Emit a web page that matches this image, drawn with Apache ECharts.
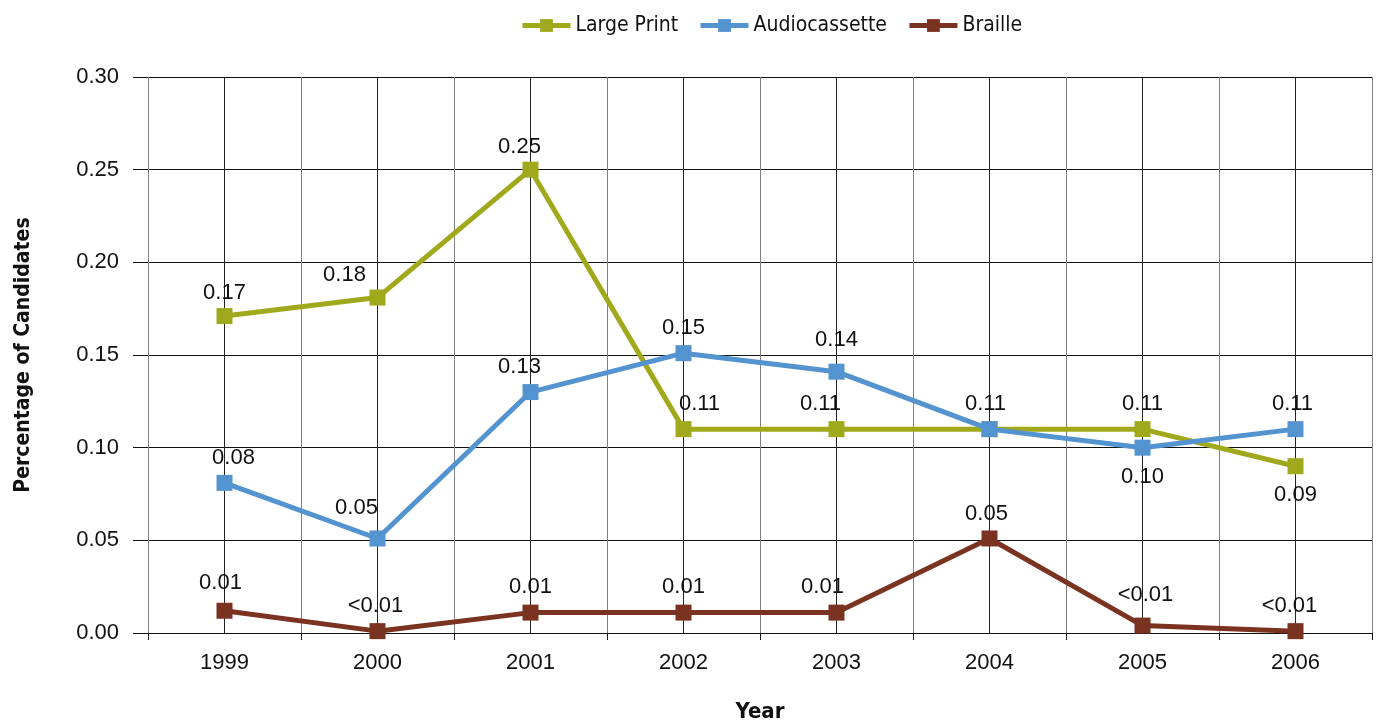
<!DOCTYPE html>
<html>
<head>
<meta charset="utf-8">
<title>Percentage of Candidates by Year</title>
<script src="https://cdn.jsdelivr.net/npm/echarts@6/dist/echarts.min.js"></script>
<style>
  html, body { margin: 0; padding: 0; background: #fff; }
  #chart { width: 1383px; height: 723px; }
</style>
</head>
<body>
<div id="chart"></div>
<script>
// chart data
const years = ['1999', '2000', '2001', '2002', '2003', '2004', '2005', '2006'];
const largePrint = [0.171, 0.181, 0.250, 0.110, 0.110, 0.110, 0.110, 0.090];
const audiocassette = [0.081, 0.051, 0.130, 0.151, 0.141, 0.110, 0.100, 0.110];
const braille = [0.012, 0.001, 0.011, 0.011, 0.011, 0.051, 0.004, 0.001];
const yTicks = ['0.00', '0.05', '0.10', '0.15', '0.20', '0.25', '0.30'];

const narrow = "'Liberation Sans Narrow', 'DejaVu Sans Condensed', sans-serif";
const sans = "'Liberation Sans', Arial, sans-serif";

// label nudges [dx, dy, position] per point, null = hidden (overlaps another label)
const lpLabels = [[0, 2, 'top'], [-33, 2, 'top'], [-11, 2, 'top'], [16, 0, 'top'], [-16, 0, 'top'], null, [0, 0, 'top'], [0, 4, 'bottom']];
const acLabels = [[9, 0, 'top'], [-21, -6, 'top'], [-11, 0, 'top'], [0, 0, 'top'], [0, -7, 'top'], [-4, 0, 'top'], [0, 4, 'bottom'], [-3, 0, 'top']];
const brLabels = [[-4, -3, 'top'], [-2, 0, 'top'], [0, -1, 'top'], [0, -1, 'top'], [-14, -1, 'top'], [-3, 0, 'top'], [3, -6, 'top'], [-6, 0, 'top']];

const fmt = v => (v < 0.01 ? '<0.01' : v.toFixed(2));

function buildSeries(name, values, nudges, color) {
  return {
    name: name,
    type: 'line',
    xAxisIndex: 0,
    data: values.map((v, i) => ({
      value: v,
      label: nudges[i]
        ? { offset: [nudges[i][0], nudges[i][1]], position: nudges[i][2] }
        : { show: false }
    })),
    symbol: 'rect',
    symbolSize: 16,
    lineStyle: { width: 5, color: color },
    itemStyle: { color: color },
    label: {
      show: true,
      distance: 6,
      color: '#111',
      fontFamily: sans,
      fontSize: 22,
      formatter: p => fmt(p.value)
    },
    emphasis: { disabled: true },
    animation: false
  };
}

const chart = echarts.init(document.getElementById('chart'));

const option = {
  backgroundColor: '#fff',
  legend: {
    top: 10,
    left: 515,
    itemWidth: 48,
    itemHeight: 16,
    itemGap: 20,
    lineStyle: { width: 5 },
    textStyle: { fontFamily: narrow, fontSize: 21, color: '#111' },
    data: ['Large Print', 'Audiocassette', 'Braille']
  },
  grid: { left: 148, right: 11, top: 77, bottom: 90, outerBoundsMode: 'none' },
  xAxis: [
    {
      type: 'category',
      data: years,
      boundaryGap: true,
      name: 'Year',
      nameLocation: 'middle',
      nameGap: 68,
      nameTextStyle: { fontFamily: narrow, fontSize: 22, fontWeight: 'bold', color: '#111' },
      axisLine: { lineStyle: { color: '#111', width: 1 } },
      axisTick: { show: true, length: 7, lineStyle: { color: '#111' } },
      axisLabel: { margin: 19, fontFamily: sans, fontSize: 22, color: '#111' },
      splitLine: { show: false }
    },
    {
      // half-category grid lines
      type: 'value',
      min: 0,
      max: 16,
      interval: 1,
      position: 'bottom',
      axisLine: { show: false },
      axisTick: { show: false },
      axisLabel: { show: false },
      splitLine: { show: true, lineStyle: { color: ['#808080', '#222'], width: 1 } }
    }
  ],
  yAxis: {
    type: 'value',
    min: 0,
    max: 0.3,
    interval: 0.05,
    name: 'Percentage of Candidates',
    nameLocation: 'middle',
    nameGap: 114,
    nameTextStyle: { fontFamily: narrow, fontSize: 21, fontWeight: 'bold', color: '#111' },
    axisLine: { show: false },
    axisTick: { show: true, inside: false, length: 15, lineStyle: { color: '#111' } },
    axisLabel: {
      margin: 29,
      fontFamily: sans,
      fontSize: 22,
      color: '#111',
      formatter: v => yTicks[Math.round(v / 0.05)]
    },
    splitLine: { show: true, lineStyle: { color: '#111', width: 1 } }
  },
  series: [
    buildSeries('Large Print', largePrint, lpLabels, '#A0A81B'),
    buildSeries('Audiocassette', audiocassette, acLabels, '#5393D0'),
    buildSeries('Braille', braille, brLabels, '#7B3321')
  ]
};

chart.setOption(option);
</script>
</body>
</html>
